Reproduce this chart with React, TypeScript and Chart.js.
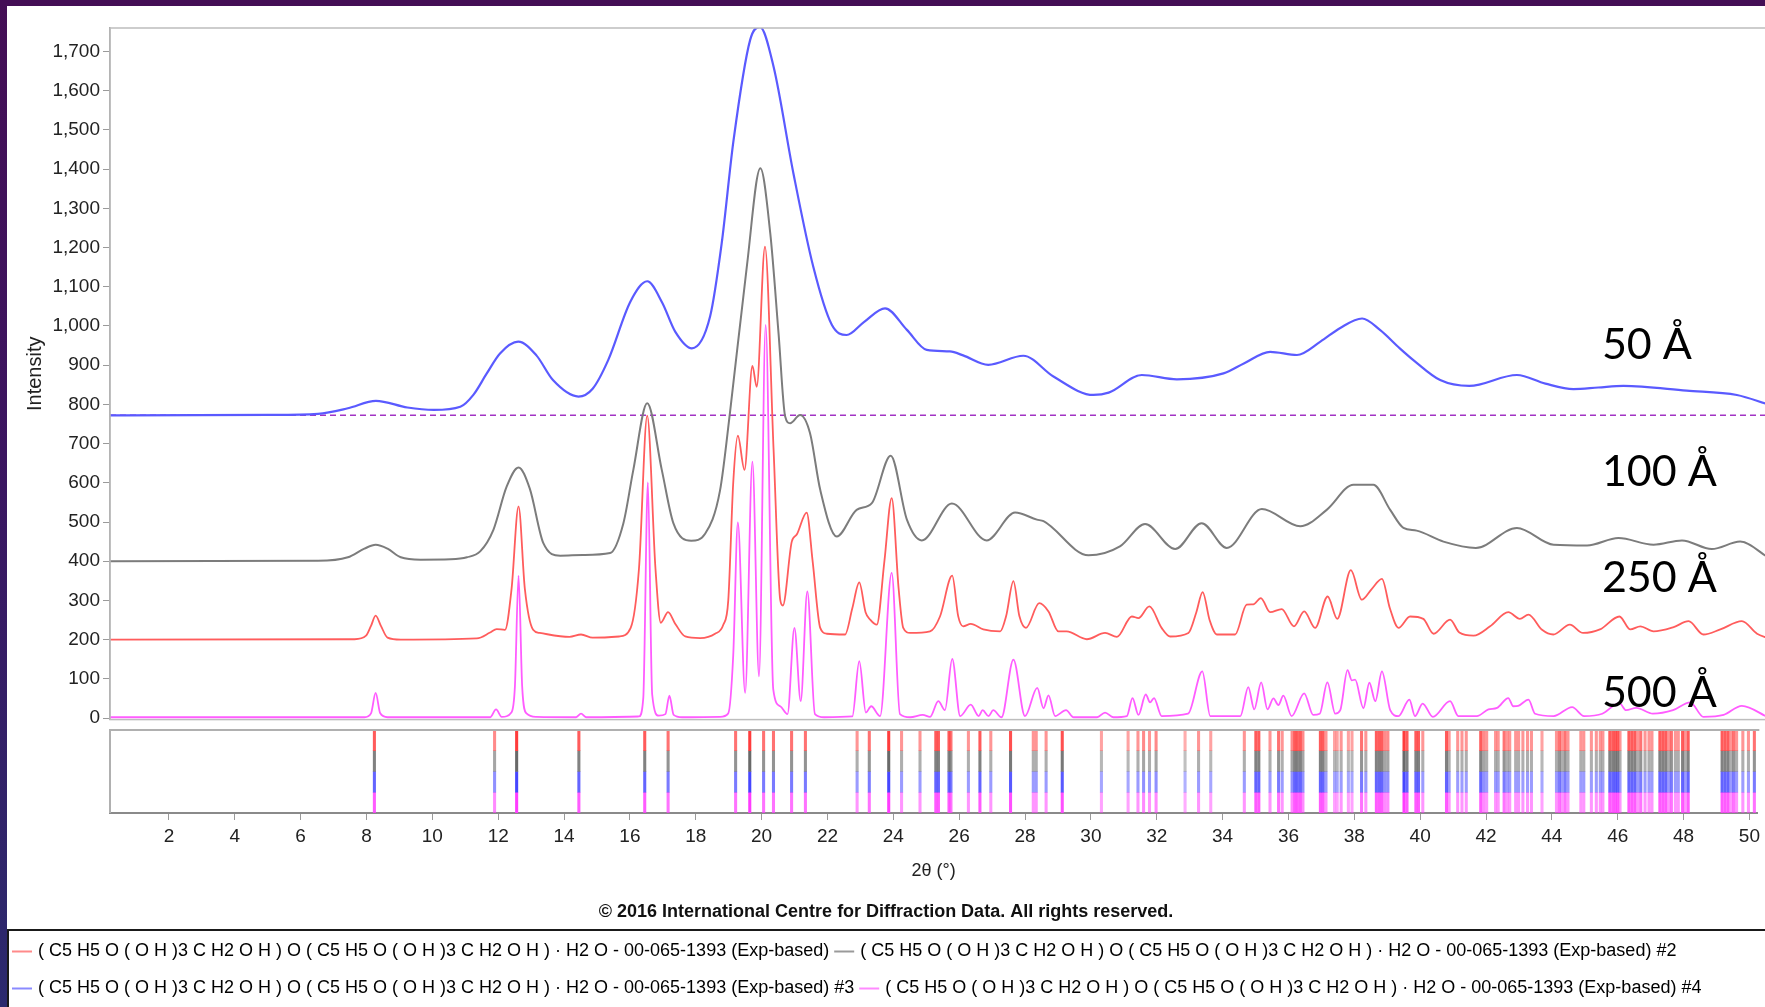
import React, { useEffect, useRef } from 'react';
import { Chart, registerables } from 'chart.js';

Chart.register(...registerables);

// ---------- axes ----------
const X_MIN = 0.21;
const X_MAX = 50.24;
const X_STEP = 2;
const Y_MIN = -4;
const Y_MAX = 1760;
const Y_STEP = 100;

// ---------- texts ----------
const FORMULA = '( C5 H5 O ( O H )3 C H2 O H ) O ( C5 H5 O ( O H )3 C H2 O H ) · H2 O - 00-065-1393 (Exp-based)';
const seriesNames = [FORMULA, FORMULA + ' #2', FORMULA + ' #3', FORMULA + ' #4'];
const copyrightText = '© 2016 International Centre for Diffraction Data. All rights reserved.';
const xTitle = '2θ (°)';
const yTitle = 'Intensity';

// crystallite size annotations
const sizeLabels = ['50 Å', '100 Å', '250 Å', '500 Å'];
const sizeLabelY = [916, 592, 322, 29];
const sizeLabelX = 45.31;

// dashed reference level
const baselineLevel = 772;

// ---------- series (2θ, intensity) ----------
const blue50: [number, number][] = [
  [0.2, 772], [5.0, 773], [6.5, 776], [7.4, 790], [8.25, 809], [9.2, 792], [10.0, 786], [10.8, 794],
  [11.2, 825], [11.6, 879], [12.0, 930], [12.55, 960], [13.1, 925], [13.6, 862], [14.37, 820],
  [14.8, 840], [15.27, 913], [15.94, 1062], [16.45, 1114], [16.9, 1060], [17.3, 985],
  [17.8, 943], [18.35, 1024], [18.7, 1210], [19.06, 1474], [19.56, 1729], [19.86, 1762], [20.27, 1661],
  [20.87, 1389], [21.47, 1151], [22.03, 1003], [22.48, 977], [23.0, 1010], [23.64, 1045], [24.3, 990],
  [24.9, 939], [25.6, 935], [26.0, 925], [26.76, 901], [27.82, 924], [28.73, 871], [29.94, 824],
  [30.4, 830], [31.4, 875], [32.46, 864], [33.87, 879], [34.5, 905], [35.28, 934], [36.09, 926],
  [36.8, 960], [37.4, 995], [38.06, 1019], [38.6, 990], [39.2, 943], [39.61, 913], [40.42, 862],
  [41.3, 847], [42.74, 875], [43.6, 853], [44.45, 839], [45.2, 843], [45.96, 847], [47.87, 835],
  [49.39, 824], [50.33, 800],
];

const gray100: [number, number][] = [
  [0.2, 400], [6.5, 401], [7.4, 410], [7.9, 432], [8.24, 442], [8.6, 432], [9.0, 410], [9.6, 404],
  [10.5, 405], [11.0, 410], [11.4, 425], [11.8, 480], [12.2, 590], [12.56, 639], [12.9, 585],
  [13.31, 446], [13.82, 414], [14.5, 416], [15.33, 421], [15.73, 497], [16.03, 633], [16.45, 803],
  [16.89, 633], [17.24, 497], [17.78, 452], [18.2, 470], [18.65, 580], [18.95, 778], [19.46, 1151],
  [19.87, 1402], [20.17, 1236], [20.42, 981], [20.62, 769], [20.77, 752], [21.07, 773], [21.37, 727],
  [21.68, 582], [22.18, 463], [22.78, 531], [23.24, 548], [23.81, 669], [24.3, 506], [24.75, 453],
  [25.66, 547], [26.71, 453], [27.57, 524], [28.23, 506], [28.43, 502], [29.79, 415], [30.74, 438],
  [31.5, 495], [32.41, 431], [33.21, 497], [33.97, 434], [35.03, 533], [36.19, 489], [36.99, 531],
  [37.8, 595], [38.4, 595], [38.91, 531], [39.31, 485], [39.71, 478], [40.52, 450], [41.5, 434],
  [42.74, 485], [43.85, 442], [44.86, 440], [45.81, 459], [46.87, 442], [47.73, 453], [48.63, 431],
  [49.49, 450], [50.33, 410],
];

const red250: [number, number][] = [
  [0.2, 200], [7.6, 201], [7.95, 210], [8.1, 235], [8.24, 261], [8.4, 235], [8.6, 205], [9.0, 200],
  [11.3, 203], [11.7, 218], [11.9, 227], [12.15, 225], [12.35, 330], [12.56, 540], [12.75, 330],
  [13.0, 225], [13.2, 217], [14.1, 207], [14.45, 213], [14.8, 205], [15.6, 208], [15.95, 230],
  [16.2, 380], [16.45, 771], [16.7, 380], [16.86, 243], [17.08, 270], [17.3, 240], [17.6, 208],
  [18.05, 204], [18.5, 215], [18.75, 238], [18.9, 300], [19.05, 600], [19.19, 720], [19.39, 633],
  [19.63, 898], [19.76, 845], [20.01, 1202], [20.27, 684], [20.47, 302], [20.55, 287], [20.82, 450],
  [20.97, 468], [21.27, 524], [21.45, 400], [21.68, 230], [21.88, 215], [22.43, 213], [22.65, 280],
  [22.86, 346], [23.05, 270], [23.19, 251], [23.39, 238], [23.62, 400], [23.84, 561], [24.05, 330],
  [24.19, 230], [24.4, 217], [25.0, 221], [25.3, 259], [25.67, 363], [25.85, 260], [26.0, 234],
  [26.23, 240], [26.61, 226], [27.12, 221], [27.3, 260], [27.52, 349], [27.7, 260], [27.9, 230],
  [28.3, 293], [28.58, 272], [28.88, 221], [29.13, 221], [29.74, 201], [30.29, 217], [30.65, 207],
  [31.1, 259], [31.3, 255], [31.63, 285], [32.0, 230], [32.26, 208], [32.81, 217], [33.05, 270],
  [33.24, 321], [33.45, 250], [33.67, 213], [34.22, 213], [34.57, 289], [34.77, 290], [35.0, 306],
  [35.28, 270], [35.63, 278], [36.0, 234], [36.31, 272], [36.64, 230], [37.02, 310], [37.31, 253],
  [37.72, 377], [38.05, 302], [38.35, 329], [38.66, 355], [38.9, 280], [39.16, 230], [39.51, 259],
  [39.91, 253], [40.22, 215], [40.72, 251], [41.0, 218], [41.43, 210], [41.93, 234], [42.48, 270],
  [42.83, 253], [43.09, 264], [43.5, 225], [43.84, 213], [44.34, 238], [44.74, 217], [45.25, 226],
  [45.84, 259], [46.17, 226], [46.47, 234], [46.87, 221], [47.48, 232], [47.93, 247], [48.38, 213],
  [48.89, 226], [49.54, 247], [50.0, 215], [50.33, 204],
];

const magenta500: [number, number][] = [
  [0.2, 2], [7.9, 2], [8.1, 12], [8.24, 64], [8.38, 12], [8.6, 2], [11.7, 2], [11.88, 22], [12.05, 3],
  [12.35, 15], [12.45, 80], [12.56, 363], [12.67, 80], [12.8, 12], [13.1, 3], [14.3, 2], [14.45, 11],
  [14.6, 2], [16.2, 4], [16.33, 50], [16.47, 601], [16.6, 60], [16.8, 6], [17.0, 10], [17.12, 57],
  [17.25, 8], [17.5, 2], [18.65, 3], [18.9, 12], [19.05, 160], [19.19, 499], [19.41, 64], [19.63, 654],
  [19.83, 106], [20.03, 1003], [20.26, 73], [20.47, 30], [20.69, 10], [20.9, 230], [21.09, 43],
  [21.29, 323], [21.52, 10], [21.8, 2], [22.65, 4], [22.86, 145], [23.06, 14], [23.22, 30], [23.49, 5],
  [23.84, 370], [24.09, 10], [24.4, 2], [24.78, 8], [25.0, 3], [25.25, 43], [25.45, 20], [25.67, 151],
  [25.91, 5], [26.23, 34], [26.47, 5], [26.59, 20], [26.77, 5], [26.91, 20], [27.16, 2], [27.52, 149],
  [27.87, 5], [28.24, 77], [28.43, 25], [28.58, 58], [28.78, 5], [29.11, 20], [29.34, 2], [30.05, 2],
  [30.29, 14], [30.54, 2], [30.95, 5], [31.12, 51], [31.3, 8], [31.52, 60], [31.65, 40], [31.77, 51],
  [32.0, 5], [32.8, 11], [33.23, 119], [33.47, 5], [34.38, 5], [34.62, 79], [34.8, 22], [35.01, 91],
  [35.2, 22], [35.38, 50], [35.53, 33], [35.68, 57], [35.93, 5], [36.31, 63], [36.58, 8], [36.78, 11],
  [37.01, 91], [37.25, 11], [37.4, 20], [37.62, 122], [37.75, 96], [37.85, 98], [38.1, 25], [38.28, 90],
  [38.46, 43], [38.66, 119], [38.91, 20], [39.16, 5], [39.49, 47], [39.66, 5], [39.89, 37], [40.2, 3],
  [40.72, 43], [40.97, 5], [41.53, 5], [41.88, 22], [42.14, 26], [42.48, 51], [42.63, 30], [42.78, 31],
  [43.09, 47], [43.29, 11], [43.85, 5], [44.41, 28], [44.77, 5], [45.32, 11], [45.84, 38], [46.04, 20],
  [46.35, 26], [46.85, 11], [47.46, 20], [47.98, 40], [48.38, 3], [48.99, 8], [49.54, 31], [50.33, 2],
];

// ---------- reference pattern sticks (2θ, relative strength) ----------
const stickLines: [number, number][] = [
  [8.24, 0.7], [11.89, 0.5], [12.56, 0.9], [14.45, 0.7], [16.45, 0.7], [17.16, 0.6], [19.21, 0.6],
  [19.64, 0.9], [20.06, 0.6], [20.36, 0.6], [20.91, 0.6], [21.33, 0.6], [22.9, 0.45], [23.27, 0.6],
  [23.86, 1], [24.25, 0.45], [24.81, 0.45], [25.29, 0.7], [25.37, 0.7], [25.69, 0.7], [25.75, 0.6],
  [26.28, 0.45], [26.63, 0.7], [26.96, 0.45], [27.56, 0.75], [28.25, 0.45], [28.34, 0.45], [28.64, 0.45],
  [29.13, 0.75], [30.32, 0.4], [31.13, 0.4], [31.43, 0.45], [31.6, 0.5], [31.78, 0.45], [31.98, 0.5],
  [32.86, 0.35], [33.27, 0.45], [33.64, 0.4], [34.66, 0.45], [35.01, 0.7], [35.1, 0.7], [35.44, 0.45],
  [35.7, 0.6], [35.81, 0.45], [36.11, 0.5], [36.19, 0.7], [36.27, 0.7], [36.36, 0.7], [36.44, 0.5],
  [36.97, 0.7], [37.05, 0.7], [37.14, 0.45], [37.4, 0.4], [37.48, 0.4], [37.6, 0.45], [37.82, 0.4],
  [37.93, 0.4], [38.22, 0.6], [38.35, 0.45], [38.67, 0.7], [38.76, 0.7], [38.84, 0.7], [38.93, 0.5],
  [39.02, 0.5], [39.51, 1], [39.6, 0.7], [39.87, 0.7], [39.95, 0.7], [40.08, 0.45], [40.8, 0.7],
  [40.88, 0.45], [41.14, 0.45], [41.27, 0.45], [41.4, 0.45], [41.84, 0.7], [41.93, 0.5], [42.02, 0.45],
  [42.29, 0.45], [42.37, 0.45], [42.55, 0.6], [42.64, 0.45], [42.72, 0.45], [42.9, 0.45], [42.99, 0.45],
  [43.12, 0.45], [43.26, 0.45], [43.38, 0.45], [43.7, 0.4], [44.14, 0.45], [44.23, 0.6], [44.31, 0.45],
  [44.4, 0.6], [44.49, 0.45], [44.88, 0.45], [44.97, 0.45], [45.2, 0.45], [45.35, 0.45], [45.47, 0.45],
  [45.55, 0.45], [45.76, 0.7], [45.85, 0.7], [45.93, 0.7], [46.0, 0.7], [46.07, 0.45], [46.34, 0.7],
  [46.43, 0.7], [46.52, 0.7], [46.61, 0.45], [46.7, 0.6], [46.83, 0.45], [46.95, 0.45], [47.04, 0.45],
  [47.28, 0.7], [47.37, 0.7], [47.46, 0.7], [47.55, 0.45], [47.63, 0.6], [47.75, 0.45], [47.84, 0.45],
  [47.97, 0.7], [48.05, 0.45], [48.14, 0.7], [49.17, 0.7], [49.26, 0.7], [49.35, 0.7], [49.44, 0.45],
  [49.52, 0.6], [49.61, 0.45], [49.8, 0.45], [49.97, 0.45], [50.15, 0.6],
];

// band rows (top to bottom: #1 red, #2 gray, #3 blue, #4 magenta)
const bandLow = [3, 2, 1, 0];
const bandHigh = [4, 3, 2, 1];
const stickRGB = ['255,60,60', '105,105,105', '70,70,255', '255,60,255'];
const legendLineColors = ['#ff8a8a', '#9a9a9a', '#8a8aff', '#ff8aff'];

const toXY = (arr: [number, number][]) => arr.map(([x, y]) => ({ x, y }));

function fontAvailable(name: string): boolean {
  const c = document.createElement('canvas').getContext('2d');
  if (!c) return false;
  const sample = '1,700 abcdefgWM 0123456789';
  c.font = '40px monospace';
  const w1 = c.measureText(sample).width;
  c.font = `40px "${name}", monospace`;
  return Math.abs(c.measureText(sample).width - w1) > 0.5;
}

export default function App() {
  const mainRef = useRef<HTMLCanvasElement>(null);
  const stickRef = useRef<HTMLCanvasElement>(null);

  useEffect(() => {
    const narrow = fontAvailable('Liberation Sans Narrow');
    const tickFont = narrow
      ? { family: '"Liberation Sans Narrow", "Liberation Sans", sans-serif', size: 22 }
      : { family: '"Liberation Sans", Arial, sans-serif', size: 19 };
    const SANS = '"Liberation Sans", Arial, sans-serif';

    const mainFrame = {
      id: 'mainFrame',
      afterDraw(chart: any) {
        const { ctx, chartArea: a } = chart;
        ctx.save();
        ctx.strokeStyle = '#bdbdbd';
        ctx.lineWidth = 1.5;
        ctx.strokeRect(a.left, a.top, a.right - a.left + 2, a.bottom - a.top);
        ctx.restore();
      },
    };

    const sizeLabelPlugin = {
      id: 'sizeLabels',
      afterDatasetsDraw(chart: any) {
        const { ctx } = chart;
        const xs = chart.scales.x;
        const ys = chart.scales.y;
        ctx.save();
        ctx.font = '43px Lato, "Open Sans", sans-serif';
        ctx.fillStyle = '#000';
        ctx.textAlign = 'left';
        ctx.textBaseline = 'alphabetic';
        sizeLabels.forEach((t, i) => {
          ctx.fillText(t, xs.getPixelForValue(sizeLabelX), ys.getPixelForValue(sizeLabelY[i]));
        });
        ctx.restore();
      },
    };

    const lineDs = (label: string, arr: [number, number][], color: string, width: number) => ({
      label,
      data: toXY(arr),
      borderColor: color,
      backgroundColor: color,
      borderWidth: width,
      pointRadius: 0,
      fill: false,
      cubicInterpolationMode: 'monotone' as const,
    });

    const main = new Chart(mainRef.current!, {
      type: 'line',
      data: {
        datasets: [
          lineDs('500 Å', magenta500, '#ff5cff', 1.8),
          lineDs('250 Å', red250, '#ff5c5c', 1.8),
          lineDs('100 Å', gray100, '#7c7c7c', 2),
          lineDs('50 Å', blue50, '#5a5aff', 2.2),
          {
            label: 'level',
            data: [{ x: X_MIN, y: baselineLevel }, { x: X_MAX, y: baselineLevel }],
            borderColor: '#a234c4',
            borderWidth: 1.5,
            borderDash: [6, 4],
            pointRadius: 0,
            fill: false,
          },
        ],
      },
      options: {
        responsive: false,
        animation: false,
        devicePixelRatio: 1,
        events: [],
        layout: { padding: { top: 22, bottom: 14, left: 0, right: 0 }, autoPadding: false } as any,
        plugins: {
          legend: { display: false },
          tooltip: { enabled: false },
          title: { display: false },
        },
        scales: {
          x: { type: 'linear', min: X_MIN, max: X_MAX, display: false },
          y: {
            type: 'linear',
            min: Y_MIN,
            max: Y_MAX,
            afterFit: (s: any) => { s.width = 103; },
            ticks: {
              stepSize: Y_STEP,
              includeBounds: false,
              maxTicksLimit: 100,
              padding: 3,
              color: '#222',
              font: tickFont,
              callback: (v: any) => Number(v).toLocaleString('en-US'),
            },
            grid: { drawOnChartArea: false, drawTicks: true, tickLength: 7, color: '#9a9a9a' },
            border: { display: true, color: '#9a9a9a', width: 1.5 },
            title: {
              display: true,
              text: yTitle,
              color: '#222',
              font: { family: SANS, size: 20 },
              padding: { top: 16, bottom: 0 },
            },
          },
        },
      } as any,
      plugins: [mainFrame, sizeLabelPlugin],
    });

    const stickFrame = {
      id: 'stickFrame',
      afterDraw(chart: any) {
        const { ctx, chartArea: a } = chart;
        ctx.save();
        ctx.strokeStyle = '#b0b0b0';
        ctx.lineWidth = 2;
        ctx.beginPath();
        ctx.moveTo(a.left, a.bottom);
        ctx.lineTo(a.left, a.top);
        ctx.lineTo(a.right + 2, a.top);
        ctx.stroke();
        // legend box border and line samples
        const lg = chart.legend;
        if (lg) {
          ctx.strokeStyle = '#1a1a1a';
          ctx.lineWidth = 2;
          ctx.beginPath();
          ctx.moveTo(1, chart.height + 5);
          ctx.lineTo(1, lg.top + 1);
          ctx.lineTo(chart.width + 2, lg.top + 1);
          ctx.stroke();
          (lg.legendHitBoxes || []).forEach((hb: any, i: number) => {
            const y = hb.top + hb.height / 2;
            ctx.strokeStyle = legendLineColors[i];
            ctx.lineWidth = 2;
            ctx.beginPath();
            ctx.moveTo(hb.left - 3, y);
            ctx.lineTo(hb.left + 17, y);
            ctx.stroke();
          });
        }
        ctx.restore();
      },
    };

    const stick = new Chart(stickRef.current!, {
      type: 'bar',
      data: {
        datasets: seriesNames.map((name, i) => ({
          label: name,
          data: stickLines.map(([p]) => ({ x: p, y: [bandLow[i], bandHigh[i]] })),
          backgroundColor: (c: any) => {
            const s = c.dataIndex !== undefined && stickLines[c.dataIndex] ? stickLines[c.dataIndex][1] : 1;
            return `rgba(${stickRGB[i]},${Math.min(1, s * 1.2)})`;
          },
          borderWidth: 0,
          barThickness: 2.4,
          grouped: false,
        })),
      } as any,
      options: {
        responsive: false,
        animation: false,
        devicePixelRatio: 1,
        events: [],
        layout: { padding: { top: 8, left: 0, right: 0, bottom: 0 }, autoPadding: false } as any,
        plugins: {
          tooltip: { enabled: false },
          title: {
            display: true,
            position: 'bottom',
            text: copyrightText,
            color: '#111',
            font: { family: SANS, size: 18, weight: 'bold' },
            padding: { top: 16, bottom: 6 },
            weight: 500,
          },
          legend: {
            display: true,
            position: 'bottom',
            align: 'start',
            weight: 1000,
            labels: {
              boxWidth: 14,
              boxHeight: 29,
              padding: 8,
              color: '#222',
              font: { family: SANS, size: 18 },
              generateLabels: () =>
                seriesNames.map((t, i) => ({
                  text: t,
                  fillStyle: 'rgba(0,0,0,0)',
                  strokeStyle: 'rgba(0,0,0,0)',
                  lineWidth: 0,
                  hidden: false,
                  datasetIndex: i,
                })),
            },
          },
        },
        scales: {
          x: {
            type: 'linear',
            min: X_MIN,
            max: X_MAX,
            offset: false,
            ticks: {
              stepSize: X_STEP,
              includeBounds: false,
              autoSkip: false,
              maxRotation: 0,
              maxTicksLimit: 100,
              padding: 5,
              color: '#222',
              font: tickFont,
            },
            grid: { offset: false, drawOnChartArea: false, drawTicks: true, tickLength: 7, color: '#9a9a9a' },
            border: { display: true, color: '#8a8a8a', width: 2 },
            title: {
              display: true,
              text: xTitle,
              color: '#222',
              font: { family: SANS, size: 18 },
              padding: { top: 7, bottom: 4 },
            },
          },
          y: {
            display: true,
            min: 0,
            max: 4,
            afterFit: (s: any) => { s.width = 103; },
            ticks: { display: false },
            grid: { display: false, drawTicks: false },
            border: { display: false },
          },
        },
      } as any,
      plugins: [stickFrame],
    });

    return () => {
      main.destroy();
      stick.destroy();
    };
  }, []);

  return (
    <div
      style={{
        position: 'fixed',
        left: 0,
        top: 0,
        width: 1765,
        height: 1007,
        overflow: 'hidden',
        background: 'linear-gradient(180deg, #440e55 0%, #3b1560 45%, #2b2a6e 100%)',
      }}
    >
      <div style={{ position: 'absolute', left: 7, top: 6, right: 0, bottom: 0, background: '#ffffff' }} />
      <canvas
        ref={mainRef}
        width={1758}
        height={728}
        style={{ position: 'absolute', left: 7, top: 6, width: 1758, height: 728 }}
      />
      <canvas
        ref={stickRef}
        width={1758}
        height={291}
        style={{ position: 'absolute', left: 7, top: 722, width: 1758, height: 291 }}
      />
    </div>
  );
}
